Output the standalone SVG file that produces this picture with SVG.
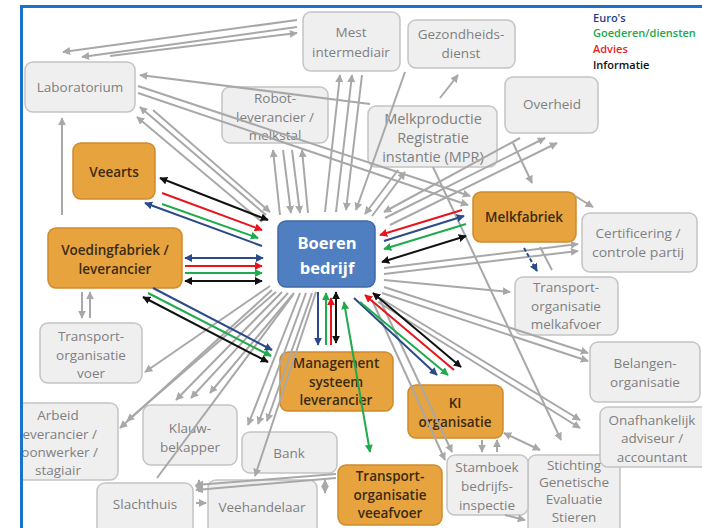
<svg xmlns="http://www.w3.org/2000/svg" width="702" height="528" viewBox="0 0 702 528">
<style>
.g rect{fill:#efefef;stroke:#c4c4c4;stroke-width:1.5}
.g text{fill:#7f7f7f;font-family:"Open Sans","Liberation Sans",sans-serif;font-size:13.5px;text-anchor:middle;dominant-baseline:central}
.o rect{fill:#e7a33e;stroke:#cf8a2c;stroke-width:1.5}
.o text{fill:#3b2b12;font-family:"Open Sans","Liberation Sans",sans-serif;font-size:13.5px;font-weight:600;text-anchor:middle;dominant-baseline:central}
.b rect{fill:#4f7fc0;stroke:#3e6aa6;stroke-width:1.5}
.b text{fill:#ffffff;font-family:"Open Sans","Liberation Sans",sans-serif;font-size:16.5px;font-weight:700;text-anchor:middle;dominant-baseline:central}
.leg text{font-family:"Open Sans","Liberation Sans",sans-serif;font-size:11px;font-weight:600}
#conn path{fill:none;stroke-width:2}
.gy{stroke:#a8a8a8;marker-end:url(#mg)}
.gy2{stroke:#a8a8a8;marker-end:url(#mg);marker-start:url(#mg)}
.gn{stroke:#a8a8a8}
.nv{stroke:#2a4a8a;marker-end:url(#mn)}
.nv2{stroke:#2a4a8a;marker-end:url(#mn);marker-start:url(#mn)}
.rd{stroke:#e8141c;marker-end:url(#mr)}
.gr{stroke:#1faa4c;marker-end:url(#mgr)}
.gr2{stroke:#1faa4c;marker-end:url(#mgr);marker-start:url(#mgr)}
.bk{stroke:#111111;marker-end:url(#mb)}
.bk2{stroke:#111111;marker-end:url(#mb);marker-start:url(#mb)}
</style>
<defs>
<marker id="mg" viewBox="0 0 10 10" refX="9" refY="5" markerWidth="4" markerHeight="4" orient="auto-start-reverse"><path d="M0,0 L10,5 L0,10 z" fill="#a8a8a8"/></marker>
<marker id="mn" viewBox="0 0 10 10" refX="9" refY="5" markerWidth="4" markerHeight="4" orient="auto-start-reverse"><path d="M0,0 L10,5 L0,10 z" fill="#2a4a8a"/></marker>
<marker id="mr" viewBox="0 0 10 10" refX="9" refY="5" markerWidth="4" markerHeight="4" orient="auto-start-reverse"><path d="M0,0 L10,5 L0,10 z" fill="#e8141c"/></marker>
<marker id="mgr" viewBox="0 0 10 10" refX="9" refY="5" markerWidth="4" markerHeight="4" orient="auto-start-reverse"><path d="M0,0 L10,5 L0,10 z" fill="#1faa4c"/></marker>
<marker id="mb" viewBox="0 0 10 10" refX="9" refY="5" markerWidth="4" markerHeight="4" orient="auto-start-reverse"><path d="M0,0 L10,5 L0,10 z" fill="#111111"/></marker>
</defs>
<rect x="0" y="0" width="702" height="528" fill="#ffffff"/>

<g id="laboratorium" class="g"><rect x="25" y="62" width="110" height="50" rx="8"/><text x="80" y="87">Laboratorium</text></g>
<g id="mest" class="g"><rect x="303" y="12" width="97" height="59" rx="8"/><text x="351" y="32">Mest</text><text x="351" y="52">intermediair</text></g>
<g id="gezondheidsdienst" class="g"><rect x="408" y="20" width="107" height="48" rx="8"/><text x="461" y="34">Gezondheids-</text><text x="461" y="53">dienst</text></g>
<g id="robot" class="g"><rect x="222" y="87" width="106" height="56" rx="8"/><text x="275" y="98">Robot-</text><text x="275" y="117">leverancier /</text><text x="275" y="135">melkstal</text></g>
<g id="mpr" class="g"><rect x="368" y="106" width="129" height="61" rx="8"/><text x="433" y="118" style="font-size:14.5px">Melkproductie</text><text x="433" y="137" style="font-size:14.5px">Registratie</text><text x="433" y="156" style="font-size:14.5px">instantie (MPR)</text></g>
<g id="overheid" class="g"><rect x="505" y="77" width="93" height="56" rx="8"/><text x="552" y="104">Overheid</text></g>
<g id="certificering" class="g"><rect x="582" y="213" width="115" height="59" rx="8"/><text x="638" y="233">Certificering /</text><text x="638" y="252" textLength="92" lengthAdjust="spacingAndGlyphs">controle partij</text></g>
<g id="transport-melkafvoer" class="g"><rect x="515" y="277" width="103" height="58" rx="8"/><text x="566" y="287">Transport-</text><text x="566" y="306">organisatie</text><text x="566" y="324">melkafvoer</text></g>
<g id="belangen" class="g"><rect x="590" y="342" width="110" height="60" rx="8"/><text x="645" y="363">Belangen-</text><text x="645" y="382">organisatie</text></g>
<g id="stichting" class="g"><rect x="528" y="455" width="92" height="80" rx="8"/><text x="574" y="465">Stichting</text><text x="574" y="482">Genetische</text><text x="574" y="499">Evaluatie</text><text x="574" y="517">Stieren</text></g>
<g id="onafhankelijk" class="g"><rect x="600" y="407" width="110" height="60" rx="8"/><text x="652" y="420">Onafhankelijk</text><text x="652" y="438">adviseur /</text><text x="652" y="457">accountant</text></g>
<g id="stamboek" class="g"><rect x="447" y="455" width="81" height="60" rx="8"/><text x="487" y="467">Stamboek</text><text x="487" y="486">bedrijfs-</text><text x="487" y="505">inspectie</text></g>
<g id="transport-voer" class="g"><rect x="40" y="323" width="102" height="60" rx="8"/><text x="91" y="336">Transport-</text><text x="91" y="355">organisatie</text><text x="91" y="373">voer</text></g>
<g id="arbeid" class="g"><rect x="0" y="403" width="118" height="77" rx="8"/><text x="58" y="415">Arbeid</text><text x="58" y="434">leverancier /</text><text x="58" y="452">loonwerker /</text><text x="58" y="470">stagiair</text></g>
<g id="klauwbekapper" class="g"><rect x="143" y="405" width="94" height="60" rx="8"/><text x="190" y="428">Klauw-</text><text x="190" y="447">bekapper</text></g>
<g id="bank" class="g"><rect x="242" y="432" width="95" height="41" rx="8"/><text x="289" y="453">Bank</text></g>
<g id="slachthuis" class="g"><rect x="97" y="483" width="96" height="52" rx="8"/><text x="145" y="504">Slachthuis</text></g>
<g id="veehandelaar" class="g"><rect x="208" y="480" width="109" height="55" rx="8"/><text x="262" y="507">Veehandelaar</text></g>

<g id="veearts" class="o"><rect x="73" y="143" width="82" height="56" rx="8"/><text x="114" y="172">Veearts</text></g>
<g id="voedingfabriek" class="o"><rect x="48" y="228" width="134" height="60" rx="8"/><text x="115" y="250">Voedingfabriek /</text><text x="115" y="269">leverancier</text></g>
<g id="melkfabriek" class="o"><rect x="473" y="192" width="103" height="50" rx="8"/><text x="524" y="217">Melkfabriek</text></g>
<g id="management" class="o"><rect x="280" y="352" width="113" height="59" rx="8"/><text x="336" y="363">Management</text><text x="336" y="382">systeem</text><text x="336" y="400">leverancier</text></g>
<g id="ki" class="o"><rect x="408" y="385" width="95" height="53" rx="8"/><text x="455" y="403">KI</text><text x="455" y="422">organisatie</text></g>
<g id="transport-veeafvoer" class="o"><rect x="338" y="465" width="104" height="60" rx="8"/><text x="390" y="476">Transport-</text><text x="390" y="495">organisatie</text><text x="390" y="513">veeafvoer</text></g>

<g id="boeren" class="b"><rect x="278" y="221" width="97" height="66" rx="8"/><text x="327" y="242">Boeren</text><text x="327" y="267">bedrijf</text></g>

<g id="conn">
<path class="gy" d="M297,20 L63,52"/>
<path class="gy" d="M297,27 L82,57"/>
<path class="gy" d="M110,56 L297,33"/>
<path class="gy" d="M370,104 L140,75"/>
<path class="gy" d="M138,86 L470,196"/>
<path class="gy" d="M138,93 L468,205"/>
<path class="gy" d="M266,215 L140,107"/>
<path class="gy" d="M262,222 L137,117"/>
<path class="gy" d="M153,110 L270,212"/>
<path class="gy" d="M62,215 L62,118"/>
<path class="gy" d="M280,215 L273,150"/>
<path class="gy" d="M283,150 L291,213"/>
<path class="gy" d="M292,150 L300,213"/>
<path class="gy" d="M308,213 L302,150"/>
<path class="gy" d="M325,212 L340,75"/>
<path class="gy" d="M336,212 L352,75"/>
<path class="gy" d="M362,75 L346,210"/>
<path class="gy" d="M405,72 L356,210"/>
<path class="gy" d="M398,170 L365,214"/>
<path class="gy" d="M372,216 L405,172"/>
<path class="gy" d="M440,98 L458,75"/>
<path class="gy" d="M385,218 L545,138"/>
<path class="gy" d="M390,225 L557,143"/>
<path class="gy" d="M520,138 L384,212"/>
<path class="gy" d="M513,143 L532,183"/>
<path class="gy" d="M575,196 L593,207"/>
<path class="gy" d="M433,167 L561,440"/>
<path class="gn" d="M540,247 L552,270"/>
<path class="gy" d="M384,268 L578,244"/>
<path class="gy" d="M384,274 L578,251"/>
<path class="gy" d="M384,280 L510,292"/>
<path class="gy" d="M384,287 L588,353"/>
<path class="gy" d="M382,293 L588,361"/>
<path class="gy" d="M380,298 L580,420"/>
<path class="gy" d="M378,302 L580,428"/>
<path class="gy" d="M372,300 L445,460"/>
<path class="gy" d="M380,300 L452,452"/>
<path class="gy" d="M482,440 L482,452"/>
<path class="gy" d="M497,452 L497,440"/>
<path class="gy2" d="M504,433 L540,450"/>
<path class="gy" d="M505,515 L525,520"/>
<path class="gy" d="M300,293 L248,425"/>
<path class="gy" d="M306,293 L258,424"/>
<path class="gy" d="M312,293 L267,421"/>
<path class="gy" d="M316,292 L255,476"/>
<path class="gy" d="M282,292 L176,400"/>
<path class="gy" d="M288,293 L191,398"/>
<path class="gy" d="M294,293 L210,393"/>
<path class="gy" d="M272,290 L120,428"/>
<path class="gy" d="M276,292 L127,421"/>
<path class="gy" d="M270,286 L145,372"/>
<path class="gn" d="M293,295 L157,478"/>
<path class="gy" d="M336,474 L196,485"/>
<path class="gy" d="M336,478 L196,490"/>
<path class="gy2" d="M199,480 L199,492"/>
<path class="gy" d="M196,503 L206,503"/>
<path class="gy2" d="M325,480 L325,493"/>
<path class="gy" d="M82,292 L82,318"/>
<path class="gy" d="M90,318 L90,292"/>

<path class="bk2" d="M268,220 L160,178"/>
<path class="rd" d="M162,193 L262,230"/>
<path class="gr" d="M162,204 L258,238"/>
<path class="nv" d="M262,246 L145,203"/>
<path class="nv2" d="M185,258 L263,258"/>
<path class="rd" d="M185,266 L262,266"/>
<path class="gr" d="M185,273 L262,273"/>
<path class="bk2" d="M185,281 L262,281"/>
<path class="bk2" d="M143,297 L268,362"/>
<path class="gr" d="M148,293 L271,356"/>
<path class="nv" d="M153,288 L272,350"/>
<path class="rd" d="M462,210 L380,235"/>
<path class="nv" d="M384,241 L464,216"/>
<path class="gr" d="M466,224 L384,249"/>
<path class="bk2" d="M382,262 L466,236"/>
<path class="nv" d="M318,292 L318,345"/>
<path class="gr" d="M326,345 L326,293"/>
<path class="rd" d="M331,345 L331,298"/>
<path class="bk2" d="M336,292 L336,343"/>
<path class="gr2" d="M344,302 L370,452"/>
<path class="nv" d="M354,298 L437,375"/>
<path class="gr" d="M360,302 L448,375"/>
<path class="rd" d="M454,370 L365,295"/>
<path class="bk2" d="M373,293 L461,367"/>
<path class="nv" d="M524,248 L537,271" stroke-dasharray="4,2"/>
</g>

<g id="legend" class="leg">
<text x="593" y="22" fill="#1f3f8a">Euro's</text>
<text x="593" y="37" fill="#22a84a">Goederen/diensten</text>
<text x="593" y="53" fill="#e81f1f">Advies</text>
<text x="593" y="69" fill="#111111" font-weight="700">Informatie</text>
</g>

<g id="frame">
<rect x="0" y="0" width="20" height="528" fill="#ffffff"/>
<rect x="0" y="0" width="702" height="5" fill="#ffffff"/>
<rect x="20" y="5" width="682" height="3" fill="#1a72cc"/>
<rect x="20" y="5" width="3" height="523" fill="#1a72cc"/>
</g>
</svg>
